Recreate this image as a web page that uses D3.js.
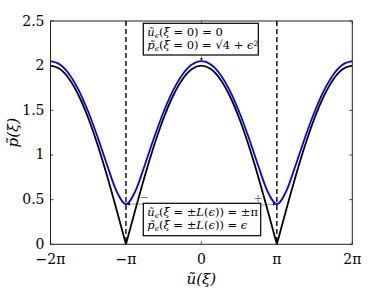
<!DOCTYPE html>
<head>
    <meta charset="UTF-8">
    <script src="https://cdnjs.cloudflare.com/ajax/libs/d3/7.8.5/d3.min.js"></script>
    <style>
        body { margin: 0; background: #fff; }
        svg text { font-family: "DejaVu Serif", serif; }
    </style>
</head>
<body>
    <svg id="chart"></svg>
    <script>
        //********** DATOS *********************
        // u in units of pi, sampled every pi/8
        var uOverPi = [-2, -1.875, -1.75, -1.625, -1.5, -1.375, -1.25, -1.125, -1,
            -0.875, -0.75, -0.625, -0.5, -0.375, -0.25, -0.125, 0,
            0.125, 0.25, 0.375, 0.5, 0.625, 0.75, 0.875, 1,
            1.125, 1.25, 1.375, 1.5, 1.625, 1.75, 1.875, 2];

        var pBlack = [2.0, 1.962, 1.848, 1.663, 1.414, 1.111, 0.765, 0.390, 0,
            0.390, 0.765, 1.111, 1.414, 1.663, 1.848, 1.962, 2.0,
            1.962, 1.848, 1.663, 1.414, 1.111, 0.765, 0.390, 0,
            0.390, 0.765, 1.111, 1.414, 1.663, 1.848, 1.962, 2.0];

        var pBlue = [2.050, 2.013, 1.902, 1.723, 1.484, 1.199, 0.888, 0.596, 0.450,
            0.596, 0.888, 1.199, 1.484, 1.723, 1.902, 2.013, 2.050,
            2.013, 1.902, 1.723, 1.484, 1.199, 0.888, 0.596, 0.450,
            0.596, 0.888, 1.199, 1.484, 1.723, 1.902, 2.013, 2.050];

        var xTicks = [-2, -1, 0, 1, 2];
        var xTickLabels = ["\u22122\u03c0", "\u2212\u03c0", "0", "\u03c0", "2\u03c0"];
        var yTicks = [0, 0.5, 1, 1.5, 2, 2.5];
        var yTickLabels = ["0", "0.5", "1", "1.5", "2", "2.5"];
        var cuspsOverPi = [-1, 1];
        var peakValue = 2.05, epsValue = 0.45;

        //********** DEFINICIONES *********************
        var width = 389, height = 292;
        var margin = { top: 21, right: 36.7, bottom: 47.7, left: 50.5 };
        var iw = width - margin.left - margin.right;
        var ih = height - margin.top - margin.bottom;

        var svg = d3.select("#chart").attr("width", width).attr("height", height);

        var x = d3.scaleLinear().domain([-2, 2]).range([0, iw]);
        var y = d3.scaleLinear().domain([0, 2.5]).range([ih, 0]);

        var g = svg.append("g").attr("transform", "translate(" + margin.left + "," + margin.top + ")");

        // curvas
        var line = d3.line()
            .x(function (d) { return x(d[0]); })
            .y(function (d) { return y(d[1]); })
            .curve(d3.curveMonotoneX);

        var blackPts = uOverPi.map(function (u, i) { return [u, pBlack[i]]; });
        var bluePts = uOverPi.map(function (u, i) { return [u, pBlue[i]]; });

        // black curve split at the cusps
        [[-2, -1], [-1, 1], [1, 2]].forEach(function (seg) {
            g.append("path")
                .datum(blackPts.filter(function (d) { return d[0] >= seg[0] && d[0] <= seg[1]; }))
                .attr("d", line)
                .attr("fill", "none")
                .attr("stroke", "#000")
                .attr("stroke-width", 1.8);
        });

        g.append("path")
            .datum(bluePts)
            .attr("d", line)
            .attr("fill", "none")
            .attr("stroke", "#0000ff")
            .attr("stroke-width", 1.8);

        // dashed lines
        g.selectAll(".dash").data(cuspsOverPi).enter().append("line")
            .attr("x1", function (d) { return x(d); })
            .attr("x2", function (d) { return x(d); })
            .attr("y1", 0).attr("y2", ih)
            .attr("stroke", "#000")
            .attr("stroke-width", 1.4)
            .attr("stroke-dasharray", "5,3");

        // ejes (box + ticks inside)
        var tl = 3;
        xTicks.forEach(function (t) {
            g.append("line").attr("x1", x(t)).attr("x2", x(t)).attr("y1", ih).attr("y2", ih - tl).attr("stroke", "#222").attr("stroke-width", 0.8);
            g.append("line").attr("x1", x(t)).attr("x2", x(t)).attr("y1", 0).attr("y2", tl).attr("stroke", "#222").attr("stroke-width", 0.8);
        });
        yTicks.forEach(function (t) {
            g.append("line").attr("x1", 0).attr("x2", tl).attr("y1", y(t)).attr("y2", y(t)).attr("stroke", "#222").attr("stroke-width", 0.8);
            g.append("line").attr("x1", iw).attr("x2", iw - tl).attr("y1", y(t)).attr("y2", y(t)).attr("stroke", "#222").attr("stroke-width", 0.8);
        });
        g.append("rect").attr("x", 0).attr("y", 0).attr("width", iw).attr("height", ih)
            .attr("fill", "none").attr("stroke", "#222").attr("stroke-width", 1);

        g.selectAll(".xl").data(xTicks).enter().append("text")
            .attr("x", function (d) { return x(d); })
            .attr("y", ih + 20)
            .attr("text-anchor", "middle")
            .style("font-size", "14px")
            .text(function (d, i) { return xTickLabels[i]; });

        g.selectAll(".yl").data(yTicks).enter().append("text")
            .attr("x", -6)
            .attr("y", function (d) { return y(d) + 4.5; })
            .attr("text-anchor", "end")
            .style("font-size", "14px")
            .text(function (d, i) { return yTickLabels[i]; });

        // axis labels
        svg.append("text")
            .attr("x", margin.left + iw / 2).attr("y", 284)
            .attr("text-anchor", "middle")
            .style("font-size", "15px").style("font-style", "italic")
            .text("\u0169(\u03be)");

        svg.append("text")
            .attr("transform", "translate(18," + (margin.top + ih / 2) + ") rotate(-90)")
            .attr("text-anchor", "middle")
            .style("font-size", "15px").style("font-style", "italic")
            .text("p\u0303(\u03be)");

        // anotaciones
        svg.append("defs").append("marker")
            .attr("id", "ah").attr("viewBox", "0 0 10 10")
            .attr("refX", 10).attr("refY", 5)
            .attr("markerWidth", 5).attr("markerHeight", 5)
            .attr("orient", "auto")
            .append("path").attr("d", "M0,0 L10,5 L0,10 z").attr("fill", "#000");

        function box(x0, y0, w, h, lines) {
            svg.append("rect").attr("x", x0).attr("y", y0).attr("width", w).attr("height", h)
                .attr("fill", "#fff").attr("stroke", "#000").attr("stroke-width", 1.2);
            lines.forEach(function (ln, i) {
                var t = svg.append("text").attr("x", x0 + 4).attr("y", y0 + 12.5 + i * 13.5)
                    .style("font-size", "11.5px");
                ln.forEach(function (p) {
                    var s = t.append("tspan").text(p.t);
                    if (p.it) s.style("font-style", "italic");
                    if (p.sub) s.attr("baseline-shift", "-25%").style("font-size", "7.5px");
                    if (p.sup) s.attr("baseline-shift", "40%").style("font-size", "7.5px");
                });
            });
        }

        // top arrow
        var cx0 = margin.left + x(0);
        svg.append("line").attr("x1", cx0).attr("x2", cx0).attr("y1", 55).attr("y2", margin.top + y(peakValue) - 0.5)
            .attr("stroke", "#555").attr("stroke-width", 0.6).attr("marker-end", "url(#ah)");

        box(143.3, 23.3, 115, 31.7, [
            [{ t: "\u0169", it: 1 }, { t: "\u03f5", it: 1, sub: 1 }, { t: "(" }, { t: "\u03be", it: 1 }, { t: " = 0) = 0" }],
            [{ t: "p\u0303", it: 1 }, { t: "\u03f5", it: 1, sub: 1 }, { t: "(" }, { t: "\u03be", it: 1 }, { t: " = 0) = \u221a" },
             { t: "4 + " }, { t: "\u03f5", it: 1 }, { t: "2", sup: 1 }]
        ]);

        // bottom arrows
        var ym = margin.top + y(epsValue);
        svg.append("line").attr("x1", 143).attr("x2", margin.left + x(-1) + 1).attr("y1", ym).attr("y2", ym)
            .attr("stroke", "#555").attr("stroke-width", 0.6).attr("marker-end", "url(#ah)");
        svg.append("line").attr("x1", 261).attr("x2", margin.left + x(1) - 1).attr("y1", ym + 1).attr("y2", ym)
            .attr("stroke", "#555").attr("stroke-width", 0.6).attr("marker-end", "url(#ah)");
        svg.append("text").attr("x", 144).attr("y", 201).attr("text-anchor", "middle")
            .style("font-size", "11px").style("fill", "#777").text("\u2212");
        svg.append("text").attr("x", 258).attr("y", 202).attr("text-anchor", "middle")
            .style("font-size", "11px").style("fill", "#777").text("+");

        box(143.3, 203.3, 117.4, 32.4, [
            [{ t: "\u0169", it: 1 }, { t: "\u03f5", it: 1, sub: 1 }, { t: "(" }, { t: "\u03be", it: 1 }, { t: " = \u00b1" },
             { t: "L", it: 1 }, { t: "(" }, { t: "\u03f5", it: 1 }, { t: ")) = \u00b1\u03c0" }],
            [{ t: "p\u0303", it: 1 }, { t: "\u03f5", it: 1, sub: 1 }, { t: "(" }, { t: "\u03be", it: 1 }, { t: " = \u00b1" },
             { t: "L", it: 1 }, { t: "(" }, { t: "\u03f5", it: 1 }, { t: ")) = " }, { t: "\u03f5", it: 1 }]
        ]);
    </script>
</body>
